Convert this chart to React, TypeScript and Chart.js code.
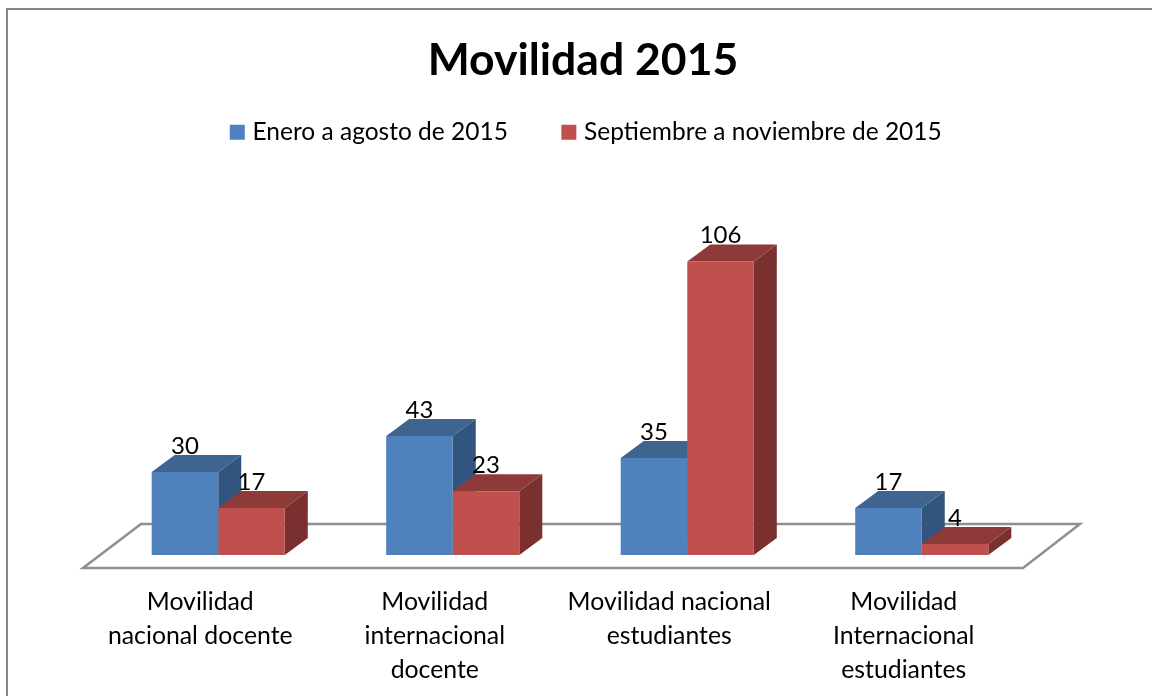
import React, { useEffect, useRef } from "react";
import { Chart, registerables } from "chart.js";

Chart.register(...registerables);

const title = "Movilidad 2015";
const categories: string[][] = [
  ["Movilidad", "nacional docente"],
  ["Movilidad", "internacional", "docente"],
  ["Movilidad nacional", "estudiantes"],
  ["Movilidad", "Internacional", "estudiantes"],
];
const seriesNames = ["Enero a agosto de 2015", "Septiembre a noviembre de 2015"];
const eneroAgosto = [30, 43, 35, 17];
const septNov = [17, 23, 106, 4];

const FONT = "Lato, 'Open Sans', sans-serif";
const COLORS = [
  { front: "#4f81bd", top: "#3e648f", side: "#32557f" },
  { front: "#c0504d", top: "#8e3a38", side: "#7a302e" },
];
const DX = 23;
const DY = 17;

const scene = {
  id: "scene",
  afterLayout(chart: any) {
    if (chart.legend) {
      chart.legend.left += 5;
      chart.legend.right += 5;
    }
  },
  beforeDraw(chart: any) {
    const { ctx, width, height, chartArea: a } = chart;
    ctx.save();
    ctx.strokeStyle = "#868686";
    ctx.lineWidth = 2;
    ctx.beginPath();
    ctx.moveTo(7, height);
    ctx.lineTo(7, 9);
    ctx.lineTo(width, 9);
    ctx.stroke();
    // floor
    const yFront = a.bottom + 13;
    const yBack = a.bottom - 31;
    ctx.strokeStyle = "#8f8f8f";
    ctx.lineWidth = 2.5;
    ctx.beginPath();
    ctx.moveTo(a.left - 18, yFront);
    ctx.lineTo(a.left + 40, yBack);
    ctx.lineTo(a.right + 41, yBack);
    ctx.lineTo(a.right - 16, yFront);
    ctx.closePath();
    ctx.stroke();
    ctx.restore();
  },
  beforeDatasetsDraw(chart: any) {
    const { ctx } = chart;
    const n = chart.data.labels.length;
    ctx.save();
    for (let j = 0; j < n; j++) {
      chart.data.datasets.forEach((_: any, i: number) => {
        const b = chart.getDatasetMeta(i).data[j];
        const l = b.x - b.width / 2;
        const r = b.x + b.width / 2;
        const c = COLORS[i];
        ctx.fillStyle = c.side;
        ctx.beginPath();
        ctx.moveTo(r, b.y);
        ctx.lineTo(r + DX, b.y - DY);
        ctx.lineTo(r + DX, b.base - DY);
        ctx.lineTo(r, b.base);
        ctx.closePath();
        ctx.fill();
        ctx.fillStyle = c.top;
        ctx.beginPath();
        ctx.moveTo(l, b.y);
        ctx.lineTo(l + DX, b.y - DY);
        ctx.lineTo(r + DX, b.y - DY);
        ctx.lineTo(r, b.y);
        ctx.closePath();
        ctx.fill();
      });
    }
    ctx.restore();
  },
  afterDatasetsDraw(chart: any) {
    const { ctx } = chart;
    ctx.save();
    ctx.fillStyle = "#000";
    ctx.font = `24px ${FONT}`;
    ctx.textAlign = "center";
    ctx.textBaseline = "middle";
    chart.data.datasets.forEach((ds: any, i: number) => {
      chart.getDatasetMeta(i).data.forEach((b: any, j: number) => {
        ctx.fillText(String(ds.data[j]), b.x, b.y - 26);
      });
    });
    ctx.restore();
  },
};

export default function App() {
  const ref = useRef<HTMLCanvasElement>(null);
  useEffect(() => {
    const chart = new Chart(ref.current as HTMLCanvasElement, {
      type: "bar",
      plugins: [scene],
      data: {
        labels: categories as any,
        datasets: [
          { label: seriesNames[0], data: eneroAgosto, backgroundColor: COLORS[0].front, yAxisID: "y" },
          { label: seriesNames[1], data: septNov, backgroundColor: COLORS[1].front, yAxisID: "y" },
        ],
      },
      options: {
        responsive: false,
        animation: false,
        layout: { padding: { left: 14, right: 0, top: 0, bottom: 0 } },
        datasets: { bar: { categoryPercentage: 0.5675, barPercentage: 1 } },
        plugins: {
          tooltip: { enabled: false },
          title: {
            display: true,
            text: title,
            color: "#000",
            font: { family: FONT, size: 44.5, weight: "bold", lineHeight: 0.045 },
            padding: { top: 60, bottom: 0 },
          },
          legend: {
            display: true,
            position: "top",
            labels: {
              usePointStyle: true,
              pointStyle: "rect",
              boxWidth: 6,
              boxHeight: 15,
              padding: 58,
              color: "#000",
              font: { family: FONT, size: 24.5 },
            },
          },
        },
        scales: {
          x: {
            grid: { display: false, drawTicks: false },
            border: { display: false },
            afterFit: (s: any) => { s.height = 141; },
            ticks: {
              autoSkip: false,
              maxRotation: 0,
              minRotation: 0,
              padding: 30,
              labelOffset: -18,
              color: "#000",
              font: { family: FONT, size: 24.8, lineHeight: 1.375 },
            },
          },
          y: {
            min: 0,
            max: 144.6,
            grid: { display: false },
            border: { display: false },
            ticks: { display: false },
            afterFit: (s: any) => { s.width = 87; },
          },
          y2: {
            position: "right",
            min: 0,
            max: 144.6,
            grid: { display: false },
            border: { display: false },
            ticks: { display: false },
            afterFit: (s: any) => { s.width = 113; },
          },
        },
      } as any,
    });
    return () => chart.destroy();
  }, []);
  return (
    <div style={{ position: "absolute", left: 0, top: 0, width: 1152, height: 696, background: "#fff" }}>
      <canvas ref={ref} width={1152} height={696} style={{ display: "block" }} />
    </div>
  );
}
